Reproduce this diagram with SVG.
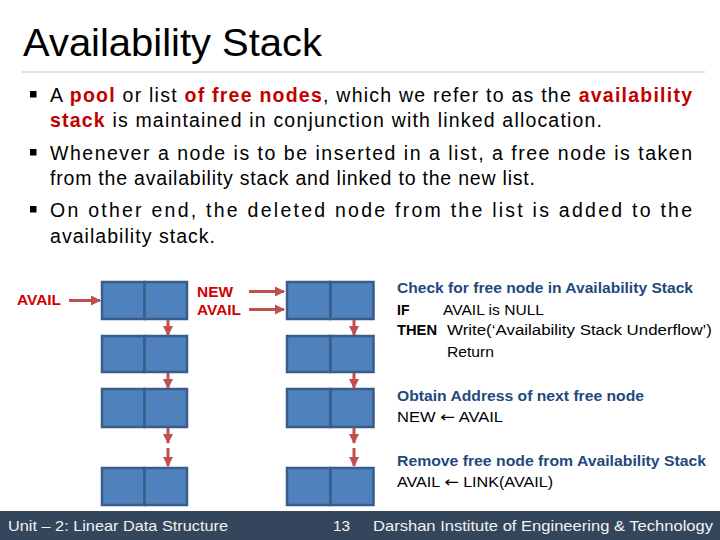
<svg xmlns="http://www.w3.org/2000/svg" width="720" height="540" viewBox="0 0 720 540">
<defs>
<marker id="ah" viewBox="0 0 10 10" refX="9" refY="5" markerWidth="3.4" markerHeight="3.4" orient="auto" markerUnits="strokeWidth">
<path d="M0,0 L10,5 L0,10 z" fill="#C0504D"/>
</marker>
</defs>
<style>
.t{font-family:"Liberation Sans",Arial,sans-serif}
.body{font-size:19.5px;fill:#000}
.hl{fill:#C00000;font-weight:bold}
.cell{fill:#4F81BD;stroke:#385D8A;stroke-width:2.5}
.ar{stroke:#C0504D;stroke-width:3;fill:none;marker-end:url(#ah)}
.lbl{font-size:14px;font-weight:bold;fill:#D00000}
.hd{font-size:14px;font-weight:bold;fill:#1F497D}
.cd{font-size:14px;fill:#000}
.cdb{font-size:14px;fill:#000;font-weight:bold}
.arw{font-family:"DejaVu Sans",sans-serif;font-size:15px}
.ft{font-size:15px;fill:#F2F2F2}
</style>
<rect width="720" height="540" fill="#fff"/>
<text class="t" x="23" y="56" font-size="38" fill="#000" textLength="299" lengthAdjust="spacingAndGlyphs">Availability Stack</text>
<line x1="22" y1="72" x2="705" y2="72" stroke="#D9D9D9" stroke-width="1.5"/>
<g id="bullets">
<rect x="30" y="91" width="6.5" height="6.5" fill="#000"/>
<rect x="30" y="149" width="6.5" height="6.5" fill="#000"/>
<rect x="30" y="206" width="6.5" height="6.5" fill="#000"/>
<text class="t body" x="50" y="102" textLength="642" lengthAdjust="spacing">A <tspan class="hl">pool</tspan> or list <tspan class="hl">of free nodes</tspan>, which we refer to as the <tspan class="hl">availability</tspan></text>
<text class="t body" x="50" y="127" textLength="552" lengthAdjust="spacing"><tspan class="hl">stack</tspan> is maintained in conjunction with linked allocation.</text>
<text class="t body" x="50" y="160" textLength="642" lengthAdjust="spacing">Whenever a node is to be inserted in a list, a free node is taken</text>
<text class="t body" x="50" y="185" textLength="485" lengthAdjust="spacing">from the availability stack and linked to the new list.</text>
<text class="t body" x="50" y="217" textLength="642" lengthAdjust="spacing">On other end, the deleted node from the list is added to the</text>
<text class="t body" x="50" y="243" textLength="165" lengthAdjust="spacing">availability stack.</text>
</g>
<g id="left-list">
<g id="l1"><rect class="cell" x="102" y="282" width="42.5" height="37"/><rect class="cell" x="144.5" y="282" width="42.5" height="37"/></g>
<g id="l2"><rect class="cell" x="102" y="336" width="42.5" height="36"/><rect class="cell" x="144.5" y="336" width="42.5" height="36"/></g>
<g id="l3"><rect class="cell" x="102" y="389" width="42.5" height="38"/><rect class="cell" x="144.5" y="389" width="42.5" height="38"/></g>
<g id="l4"><rect class="cell" x="102" y="468" width="42.5" height="37"/><rect class="cell" x="144.5" y="468" width="42.5" height="37"/></g>
</g>
<g id="right-list">
<g id="r1"><rect class="cell" x="287" y="282" width="43.5" height="37"/><rect class="cell" x="330.5" y="282" width="43" height="37"/></g>
<g id="r2"><rect class="cell" x="287" y="336" width="43.5" height="36"/><rect class="cell" x="330.5" y="336" width="43" height="36"/></g>
<g id="r3"><rect class="cell" x="287" y="389" width="43.5" height="38"/><rect class="cell" x="330.5" y="389" width="43" height="38"/></g>
<g id="r4"><rect class="cell" x="287" y="468" width="43.5" height="37"/><rect class="cell" x="330.5" y="468" width="43" height="37"/></g>
</g>
<g id="labels">
<text class="t lbl" x="17" y="305" textLength="44" lengthAdjust="spacingAndGlyphs">AVAIL</text>
<text class="t lbl" x="197" y="297" textLength="36" lengthAdjust="spacingAndGlyphs">NEW</text>
<text class="t lbl" x="197" y="315" textLength="44" lengthAdjust="spacingAndGlyphs">AVAIL</text>
</g>
<g id="connectors">
<line class="ar" x1="69" y1="300.5" x2="100" y2="300.5"/>
<line class="ar" x1="249" y1="291.5" x2="284" y2="291.5"/>
<line class="ar" x1="249" y1="309.5" x2="284" y2="309.5"/>
<line class="ar" x1="168" y1="320" x2="168" y2="335"/>
<line class="ar" x1="168" y1="373" x2="168" y2="388"/>
<line class="ar" x1="168" y1="428" x2="168" y2="443"/>
<line class="ar" x1="168" y1="448" x2="168" y2="466"/>
<line class="ar" x1="354" y1="320" x2="354" y2="335"/>
<line class="ar" x1="354" y1="373" x2="354" y2="388"/>
<line class="ar" x1="354" y1="428" x2="354" y2="443"/>
<line class="ar" x1="354" y1="448" x2="354" y2="466"/>
</g>
<g id="algorithm">
<text class="t hd" x="397" y="293" textLength="296" lengthAdjust="spacingAndGlyphs">Check for free node in Availability Stack</text>
<text class="t cdb" x="397" y="315">IF</text>
<text class="t cd" x="443" y="315" textLength="101" lengthAdjust="spacingAndGlyphs">AVAIL is NULL</text>
<text class="t cdb" x="397" y="335" textLength="40" lengthAdjust="spacingAndGlyphs">THEN</text>
<text class="t cd" x="447" y="335" textLength="265" lengthAdjust="spacingAndGlyphs">Write(‘Availability Stack Underflow’)</text>
<text class="t cd" x="447" y="357" textLength="47" lengthAdjust="spacingAndGlyphs">Return</text>
<text class="t hd" x="397" y="401" textLength="247" lengthAdjust="spacingAndGlyphs">Obtain Address of next free node</text>
<text class="t cd" x="397" y="422" textLength="106" lengthAdjust="spacingAndGlyphs">NEW <tspan class="arw">←</tspan> AVAIL</text>
<text class="t hd" x="397" y="466" textLength="309" lengthAdjust="spacingAndGlyphs">Remove free node from Availability Stack</text>
<text class="t cd" x="397" y="487" textLength="156" lengthAdjust="spacingAndGlyphs">AVAIL <tspan class="arw">←</tspan> LINK(AVAIL)</text>
</g>
<g id="footer">
<rect x="0" y="511" width="720" height="29" fill="#34465C"/>
<text class="t ft" x="8" y="531" textLength="220" lengthAdjust="spacingAndGlyphs">Unit – 2: Linear Data Structure</text>
<text class="t ft" x="333" y="531" textLength="17" lengthAdjust="spacingAndGlyphs">13</text>
<text class="t ft" x="373" y="531" textLength="340" lengthAdjust="spacingAndGlyphs">Darshan Institute of Engineering &amp; Technology</text>
</g>
</svg>
